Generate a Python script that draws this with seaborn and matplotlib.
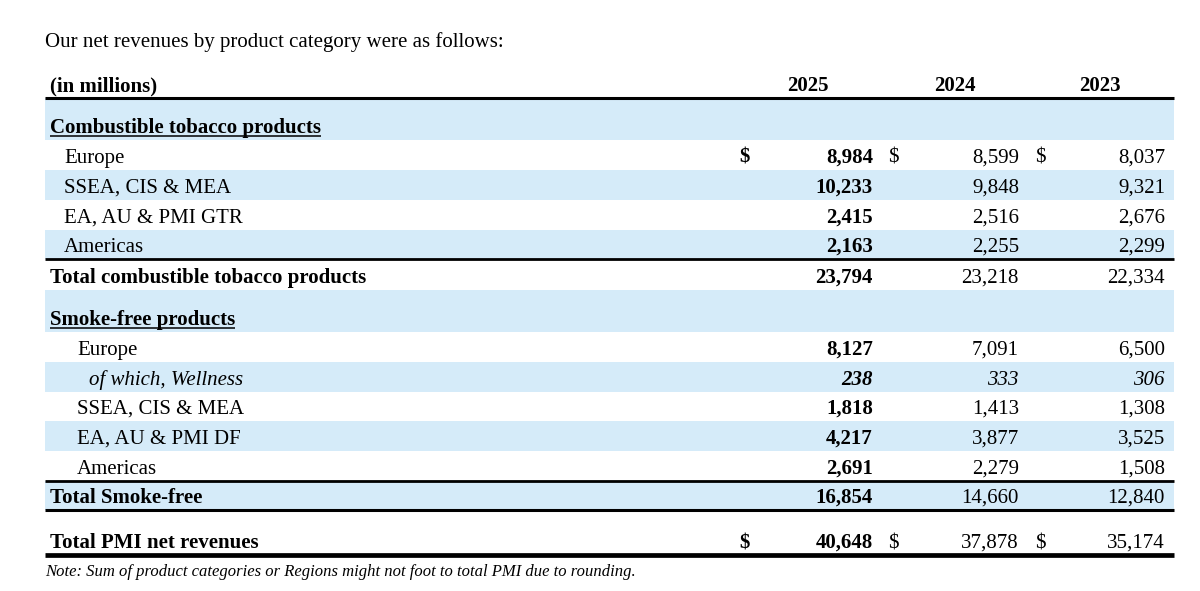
import matplotlib
matplotlib.use("Agg")
import matplotlib.pyplot as plt
import seaborn as sns

# Table content
title = 'Our net revenues by product category were as follows:'
unit_label = '(in millions)'
years = ['2025', '2024', '2023']
row_labels = ['Combustible tobacco products', 'Europe', 'SSEA, CIS & MEA', 'EA, AU & PMI GTR', 'Americas',
              'Total combustible tobacco products',
              'Smoke-free products', 'Europe', 'of which, Wellness', 'SSEA, CIS & MEA', 'EA, AU & PMI DF',
              'Americas', 'Total Smoke-free',
              'Total PMI net revenues']
rev_2025 = [None, 8984, 10233, 2415, 2163, 23794, None, 8127, 238, 1818, 4217, 2691, 16854, 40648]
rev_2024 = [None, 8599, 9848, 2516, 2255, 23218, None, 7091, 333, 1413, 3877, 2279, 14660, 37878]
rev_2023 = [None, 8037, 9321, 2676, 2299, 22334, None, 6500, 306, 1308, 3525, 1508, 12840, 35174]
row_kind = ['section', 'item', 'item', 'item', 'item', 'total',
            'section', 'item2', 'sub', 'item2', 'item2', 'item2', 'total', 'total']
dollar_rows = [1, 13]
note = 'Note: Sum of product categories or Regions might not foot to total PMI due to rounding.'

# Layout (pixel coordinates of the 1200x591 canvas)
row_top = [98, 140, 170, 200, 230, 259, 290, 332, 362, 392, 421, 451, 481, 526]
row_bot = [140, 170, 200, 230, 259, 290, 332, 362, 392, 421, 451, 481, 510, 555]
shaded = [0, 2, 4, 6, 8, 10, 12]
label_x = {'section': 50, 'total': 50, 'item': 64, 'item2': 77, 'sub': 89}
year_x = [808, 955, 1100]
value_right = [873, 1019, 1165]
dollar_x = [745, 893, 1040]
left, right = 45, 1174
band_color = '#d5ebf9'
fs = 15

sns.set_theme(style='white')
plt.rcParams['font.family'] = ['Liberation Serif', 'DejaVu Serif']
plt.rcParams['text.color'] = 'black'

fig = plt.figure(figsize=(12, 5.91), dpi=100)
ax = fig.add_axes([0, 0, 1, 1])
ax.set_xlim(0, 1200)
ax.set_ylim(591, 0)
ax.axis('off')

for i in shaded:
    ax.fill_between([left, right], row_top[i], row_bot[i], color=band_color, lw=0, zorder=0)

ax.text(45, 47, title, fontsize=fs, va='baseline', ha='left')
ax.text(50, 91, unit_label, fontsize=fs, fontweight='bold', va='baseline', ha='left')
for x, yr in zip(year_x, years):
    ax.text(x, 91, yr, fontsize=fs, fontweight='bold', va='baseline', ha='center')

# rules
for y, lw in [(98, 2.2), (259, 2.0), (481, 2.0), (510, 2.2), (555, 3.4)]:
    ax.plot([left, right], [y, y], color='black', lw=lw, solid_capstyle='butt', zorder=2)

section_texts = []
for i, lab in enumerate(row_labels):
    kind = row_kind[i]
    y = row_bot[i] - 7
    weight = 'bold' if kind in ('section', 'total') else 'normal'
    style = 'italic' if kind == 'sub' else 'normal'
    t = ax.text(label_x[kind], y, lab, fontsize=fs, fontweight=weight, fontstyle=style,
                va='baseline', ha='left')
    if kind == 'section':
        section_texts.append((t, y))
        continue
    vals = [rev_2025[i], rev_2024[i], rev_2023[i]]
    for c, v in enumerate(vals):
        w = 'bold' if c == 0 else 'normal'
        ax.text(value_right[c], y, f'{v:,}', fontsize=fs, fontweight=w, fontstyle=style,
                va='baseline', ha='right')
        if i in dollar_rows:
            ax.text(dollar_x[c], y, '$', fontsize=fs, fontweight=w, va='baseline', ha='center')

ax.text(45, 576, note, fontsize=12, fontstyle='italic', va='baseline', ha='left')

# underline the section headings
fig.canvas.draw()
renderer = fig.canvas.get_renderer()
inv = ax.transData.inverted()
for t, y in section_texts:
    bb = t.get_window_extent(renderer)
    x0, _ = inv.transform((bb.x0, bb.y0))
    x1, _ = inv.transform((bb.x1, bb.y0))
    ax.plot([x0, x1], [y + 3, y + 3], color='black', lw=1.1, solid_capstyle='butt')

fig.savefig('out.png', dpi=100)
